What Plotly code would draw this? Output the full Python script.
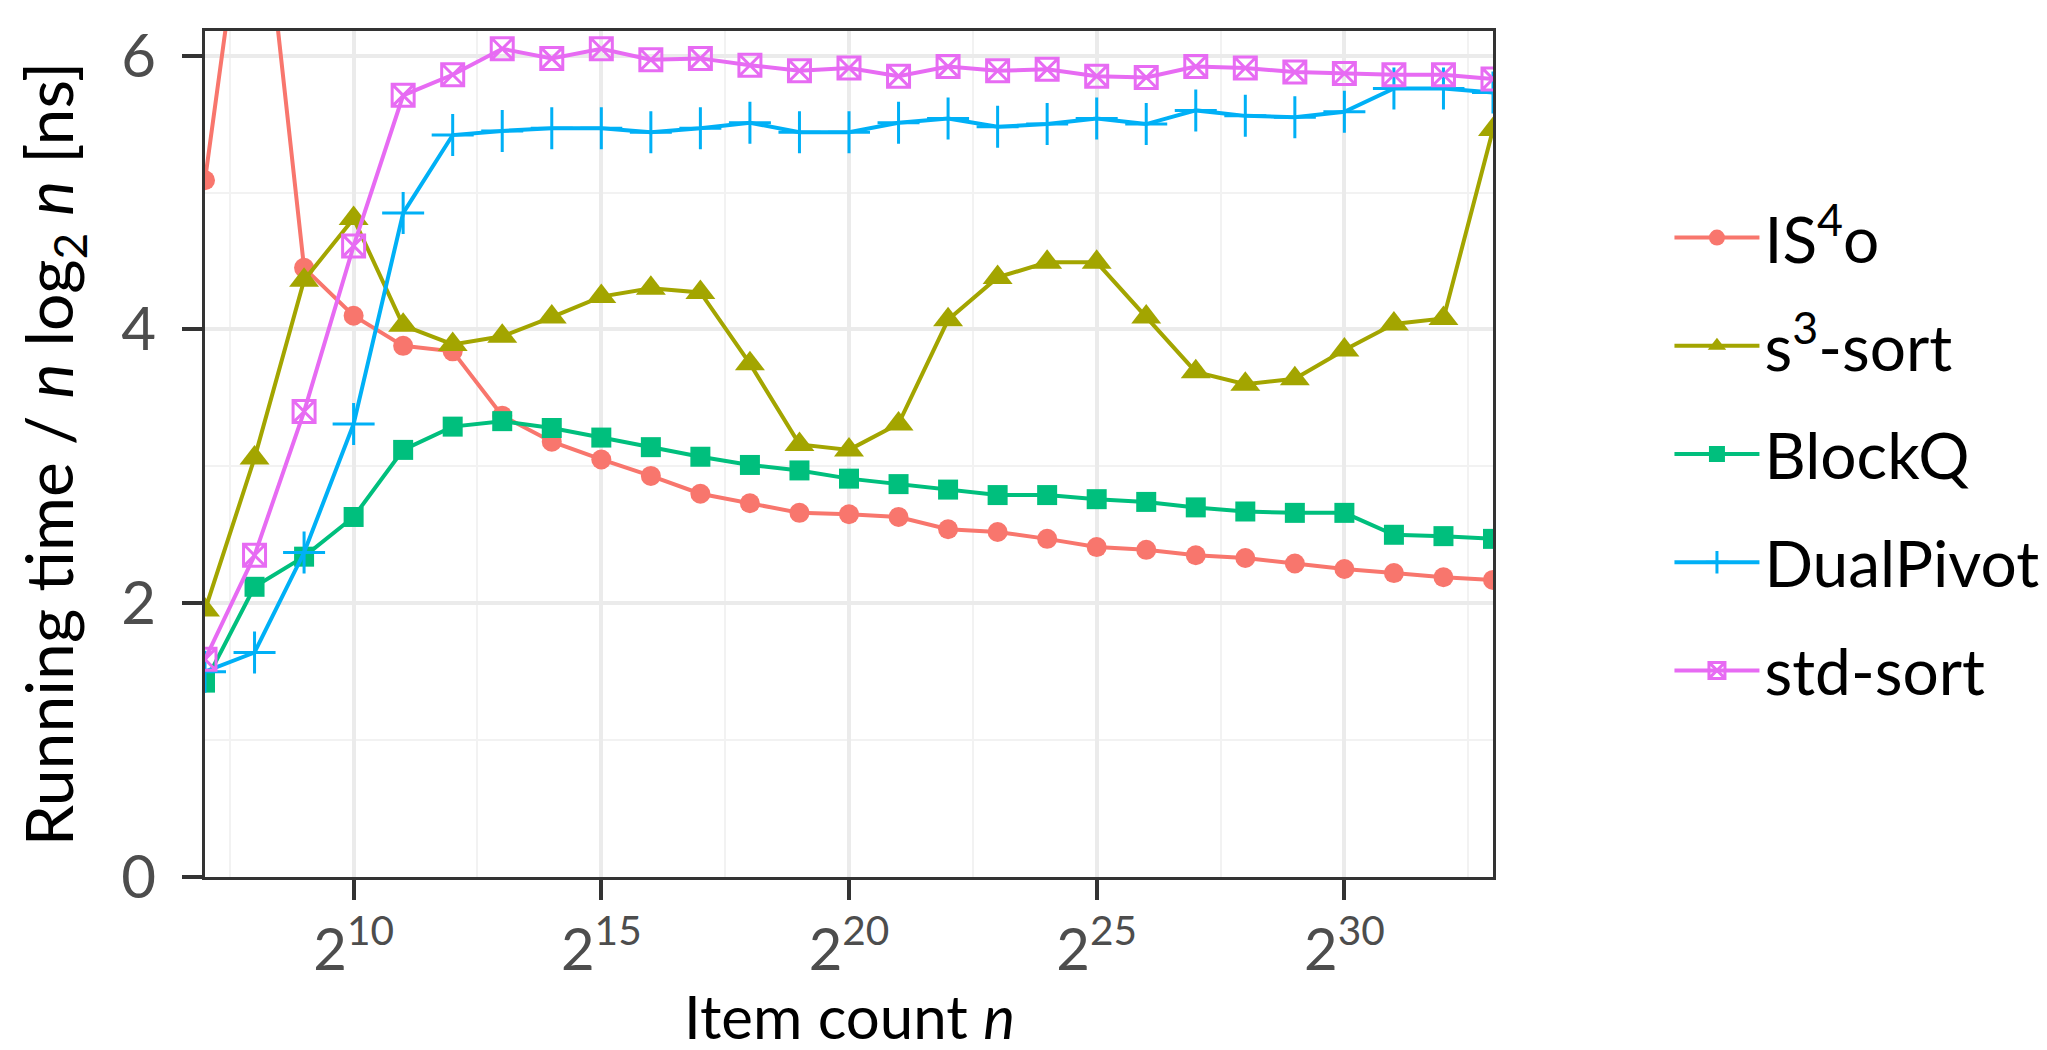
import plotly.graph_objects as go

# x: log2 of item count n
log2_n = list(range(7, 34))

is4o = [5.09, 7.75, 4.45, 4.10, 3.88, 3.84, 3.37, 3.18, 3.05, 2.93, 2.80, 2.73, 2.66, 2.65,
        2.63, 2.54, 2.52, 2.47, 2.41, 2.39, 2.35, 2.33, 2.29, 2.25, 2.22, 2.19, 2.17]
s3_sort = [1.95, 3.06, 4.36, 4.81, 4.03, 3.89, 3.95, 4.09, 4.24, 4.30, 4.27, 3.75, 3.16, 3.12,
           3.31, 4.07, 4.38, 4.49, 4.49, 4.09, 3.69, 3.60, 3.64, 3.85, 4.04, 4.08, 5.46]
blockq = [1.42, 2.12, 2.34, 2.63, 3.12, 3.29, 3.33, 3.28, 3.21, 3.14, 3.07, 3.01, 2.97, 2.91,
          2.87, 2.83, 2.79, 2.79, 2.76, 2.74, 2.70, 2.67, 2.66, 2.66, 2.50, 2.49, 2.47]
dualpivot = [1.50, 1.64, 2.37, 3.31, 4.85, 5.42, 5.45, 5.47, 5.47, 5.44, 5.47, 5.51, 5.44, 5.44,
             5.51, 5.54, 5.48, 5.50, 5.54, 5.50, 5.60, 5.56, 5.55, 5.59, 5.76, 5.76, 5.73]
std_sort = [1.59, 2.35, 3.40, 4.61, 5.71, 5.86, 6.05, 5.98, 6.05, 5.97, 5.98, 5.93, 5.89, 5.91,
            5.85, 5.92, 5.89, 5.90, 5.85, 5.84, 5.92, 5.91, 5.88, 5.87, 5.86, 5.86, 5.83]

names = ["IS<sup>4</sup>o", "s<sup>3</sup>-sort", "BlockQ", "DualPivot", "std-sort"]
x_tickvals = [10, 15, 20, 25, 30]
x_ticktext = ["2<sup>%d</sup>" % v for v in x_tickvals]
y_tickvals = [0, 2, 4, 6]
x_title = "Item count <i>n</i>"
y_title = "Running time / <i>n</i> log<sub>2</sub> <i>n</i> [ns]"

series = [is4o, s3_sort, blockq, dualpivot, std_sort]
colors = ["#F8766D", "#A3A500", "#00BF7D", "#00B0F6", "#E76BF3"]
symbols = ["circle", "triangle-up", "square", "cross-thin-open", "square-x-open"]
sizes = [20, 26, 20, 30, 22]
mlw = [0, 0, 0, 3, 3]

FONT = "Lato"

fig = go.Figure()
for i, (name, ys, c, sym, sz, lw) in enumerate(zip(names, series, colors, symbols, sizes, mlw)):
    fig.add_trace(go.Scatter(
        x=log2_n, y=ys, name=name, mode="lines+markers",
        legendgroup="g%d" % i,
        line=dict(color=c, width=4),
        marker=dict(symbol=sym, size=sz, color=c, line=dict(color=c, width=lw)),
        cliponaxis=True,
    ))

fig.update_layout(
    width=2047, height=1050,
    margin=dict(l=197, r=550, t=10, b=181),
    paper_bgcolor="white", plot_bgcolor="white",
    font=dict(family=FONT, color="black"),
    showlegend=True,
    legend=dict(
        x=1.137, xanchor="left", y=0.5, yanchor="middle",
        font=dict(family=FONT, size=64, color="black"),
        itemwidth=85, tracegroupgap=22,
        bgcolor="rgba(0,0,0,0)", borderwidth=0,
    ),
    annotations=[dict(
        text=x_title, xref="paper", yref="paper", x=0.5, y=-0.2095,
        xanchor="center", yanchor="bottom", showarrow=False,
        font=dict(family=FONT, size=60, color="black"),
    )],
)

fig.update_xaxes(
    range=[7, 33], tickvals=x_tickvals, ticktext=x_ticktext,
    tickfont=dict(family=FONT, size=58, color="#4D4D4D"),
    ticks="outside", ticklen=20, tickwidth=4, tickcolor="#333333",
    showgrid=True, gridcolor="#EBEBEB", gridwidth=4,
    minor=dict(tick0=7.5, dtick=5, showgrid=True, gridcolor="#F2F2F2", gridwidth=2, ticklen=0),
    showline=True, linecolor="#333333", linewidth=3, mirror=True,
    zeroline=False,
)
fig.update_yaxes(
    range=[0, 6.18], tickvals=y_tickvals,
    tickfont=dict(family=FONT, size=60, color="#4D4D4D"),
    ticks="outside", ticklen=20, tickwidth=4, tickcolor="#333333",
    ticklabelstandoff=14, ticklabeloverflow="allow",
    showgrid=True, gridcolor="#EBEBEB", gridwidth=4,
    minor=dict(tick0=1, dtick=2, showgrid=True, gridcolor="#F2F2F2", gridwidth=2, ticklen=0),
    showline=True, linecolor="#333333", linewidth=3, mirror=True,
    zeroline=False,
    title=dict(text=y_title, font=dict(family=FONT, size=66, color="black"), standoff=36),
)

fig.write_html("out.html")
